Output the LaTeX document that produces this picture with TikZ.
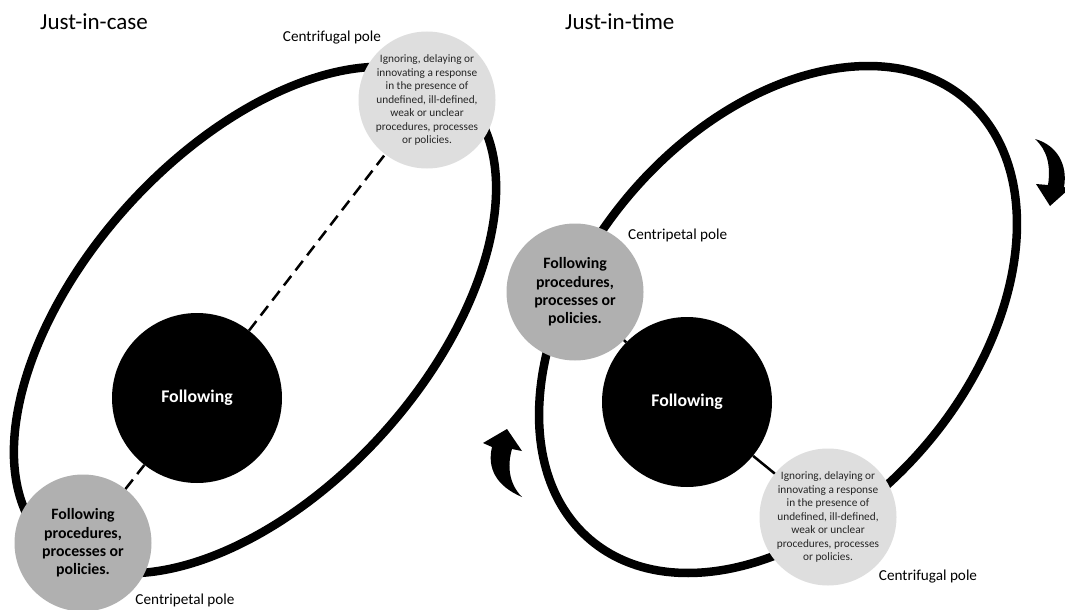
\documentclass[tikz,border=0pt]{standalone}
\usepackage{fontspec}
\setmainfont{Carlito}
\usetikzlibrary{positioning}

\definecolor{ingray}{RGB}{176,176,176}
\definecolor{outgray}{RGB}{222,222,222}

\def\outtext{Ignoring, delaying or\\innovating a response\\in the presence of\\undefined, ill-defined,\\weak or unclear\\procedures, processes\\or policies.}
\def\intext{Following\\procedures,\\processes or\\policies.}

\begin{document}
\begin{tikzpicture}[x=1pt,y=-1pt,
	rim/.style={line width=8.5pt},
	pole/.style={circle,minimum size=137pt,inner sep=0pt,align=center},
	inpole/.style={pole,fill=ingray,font=\fontsize{15.8}{18.3}\selectfont\bfseries},
	outpole/.style={pole,fill=outgray,text=black!85,font=\fontsize{11.3}{13.5}\selectfont},
	core/.style={circle,fill=black,minimum size=170pt,inner sep=0pt,text=white,font=\fontsize{17.8}{21}\selectfont\bfseries},
	tag/.style={inner sep=0pt,font=\fontsize{15.2}{18}\selectfont},
	heading/.style={inner sep=0pt,anchor=west,font=\fontsize{23}{27}\selectfont}]
\useasboundingbox (0,0) rectangle (1065,610);

% just-in-case
\draw[rim,rotate around={47.7:(255,320)}] (255,320) ellipse [x radius=305pt,y radius=171pt];
\node[heading] (caseHead) at (40,22) {Just-in-case};
\node[core] (caseCore) at (197,398) {Following};
\node[inpole] (caseIn) at (83,543) {\intext};
\node[outpole] (caseOut) at (427,100) {\outtext};
\draw[line width=2.5pt,dash pattern=on 12pt off 7pt] (caseIn) -- (caseCore);
\draw[line width=2.5pt,dash pattern=on 12pt off 7pt] (caseCore) -- (caseOut);
\node[tag] (caseFugal) at (332,38) {Centrifugal pole};
\node[tag] (casePetal) at (185,600) {Centripetal pole};

% just-in-time
\draw[rim,rotate around={49.45:(778,319.5)}] (778,319.5) ellipse [x radius=289.4pt,y radius=193.9pt];
\node[heading] (timeHead) at (565,22) {Just-in-time};
\node[core] (timeCore) at (687,402) {Following};
\node[inpole] (timeIn) at (575,292) {\intext};
\node[outpole] (timeOut) at (828,517) {\outtext};
\draw[line width=2.5pt] (timeIn) -- (timeCore);
\draw[line width=2.5pt] (timeCore) -- (timeOut);
\node[tag,anchor=west] (timePetal) at (628,235) {Centripetal pole};
\node[tag] (timeFugal) at (928,577) {Centrifugal pole};

% turning arrows
\fill (522,497) .. controls (496,486) and (487,468) .. (492,447) -- (483,443) -- (507,429)
	-- (522,451) -- (512,449) .. controls (507,466) and (509,484) .. (522,497) -- cycle;
\fill (1035,139) .. controls (1057,145) and (1068,165) .. (1064,187) -- (1069,189) -- (1050,206)
	-- (1036,184) -- (1048,185) .. controls (1051,165) and (1047,150) .. (1035,139) -- cycle;
\end{tikzpicture}
\end{document}
